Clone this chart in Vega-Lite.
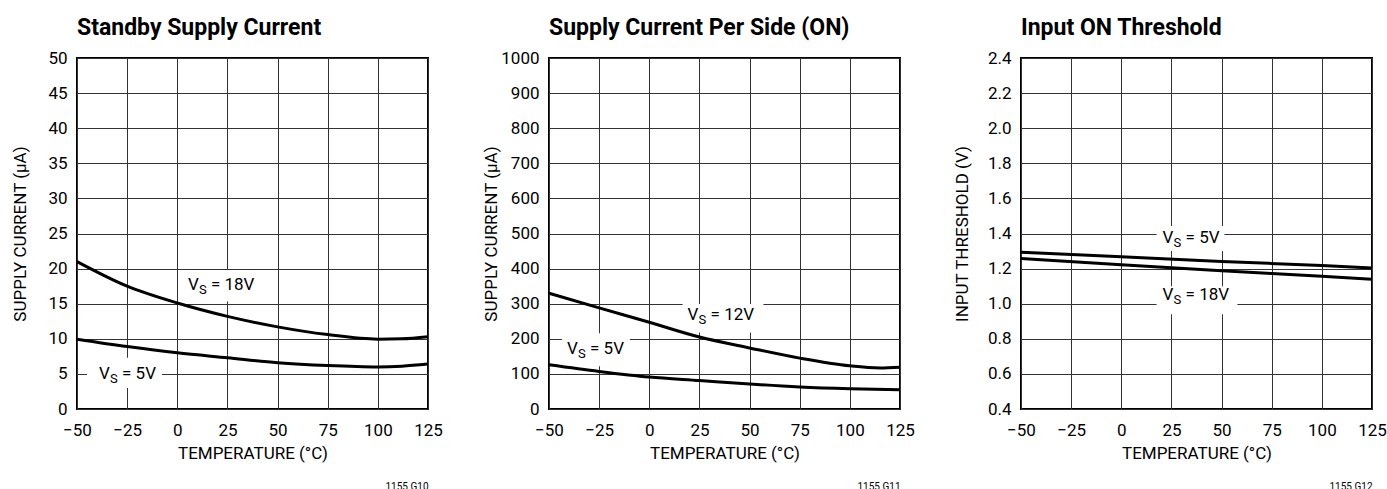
{
  "$schema": "https://vega.github.io/schema/vega-lite/v6.json",
  "autosize": {"type": "pad"},
  "padding": {"left": 10, "top": 16, "right": 5, "bottom": 0},
  "spacing": 121,
  "bounds": "flush",
  "config": {
    "font": "Roboto, Liberation Sans, sans-serif",
    "view": {"stroke": "black", "strokeWidth": 2},
    "axis": {
      "grid": true, "gridColor": "#333333", "gridWidth": 1, "gridOpacity": 1,
      "domain": false, "ticks": false,
      "labelFontSize": 17, "labelColor": "black", "labelFlush": false, "labelOverlap": false,
      "titleFontSize": 17, "titleFontWeight": "normal", "titleColor": "black"
    },
    "axisX": {"labelPadding": 13, "titlePadding": 7},
    "axisY": {"labelPadding": 10},
    "title": {"fontSize": 23, "fontWeight": "bold", "anchor": "start", "frame": "group", "color": "black", "baseline": "alphabetic", "offset": 9},
    "text": {"color": "black"}
  },
  "hconcat": [
    {
      "width": 351, "height": 351,
      "title": {"text": "Standby Supply Current"},
      "encoding": {
        "y": {"field": "y", "type": "quantitative", "scale": {"domain": [0, 50], "nice": false},
              "axis": {"title": "SUPPLY CURRENT (µA)", "values": [0,5,10,15,20,25,30,35,40,45,50], "titlePadding": 18}}
      },
      "layer": [
        {
          "data": {"values": [
            {"x": 0.5, "x2": 43.5, "y": 15.3, "y2": 19.8},
            {"x": -45, "x2": -7.6, "y": 3.0, "y2": 7.3}
          ]},
          "mark": {"type": "rect", "fill": "white"},
          "encoding": {
            "x": {"field": "x", "type": "quantitative", "scale": {"domain": [-50, 125], "nice": false}, "axis": null},
            "x2": {"field": "x2"}, "y2": {"field": "y2"}
          }
        },
        {
          "data": {"values": [
            {"s": "18V", "x": -50, "y": 21.0}, {"s": "18V", "x": -25, "y": 17.5}, {"s": "18V", "x": 0, "y": 15.1},
            {"s": "18V", "x": 25, "y": 13.2}, {"s": "18V", "x": 50, "y": 11.7}, {"s": "18V", "x": 75, "y": 10.6},
            {"s": "18V", "x": 100, "y": 9.95}, {"s": "18V", "x": 112, "y": 10.0}, {"s": "18V", "x": 125, "y": 10.3},
            {"s": "5V", "x": -50, "y": 9.95}, {"s": "5V", "x": -25, "y": 8.9}, {"s": "5V", "x": 0, "y": 8.0},
            {"s": "5V", "x": 25, "y": 7.3}, {"s": "5V", "x": 50, "y": 6.6}, {"s": "5V", "x": 75, "y": 6.2},
            {"s": "5V", "x": 100, "y": 6.0}, {"s": "5V", "x": 112, "y": 6.1}, {"s": "5V", "x": 125, "y": 6.4}
          ]},
          "mark": {"type": "line", "stroke": "black", "strokeWidth": 3, "interpolate": "monotone"},
          "encoding": {
            "x": {"field": "x", "type": "quantitative", "axis": {"title": "TEMPERATURE (°C)", "orient": "bottom", "grid": true, "values": [-50,-25,0,25,50,75,100,125]}},
            "detail": {"field": "s"}
          }
        },
        {
          "data": {"values": [{"x": 5.3, "y": 17.6, "t": "= 18V"}, {"x": -39, "y": 5.0, "t": "= 5V"}]},
          "mark": {"type": "text", "align": "left", "baseline": "middle", "fontSize": 17},
          "encoding": {"x": {"field": "x", "type": "quantitative", "axis": null}, "text": {"value": "V"}}
        },
        {
          "data": {"values": [{"x": 5.3, "y": 17.6, "t": "= 18V"}, {"x": -39, "y": 5.0, "t": "= 5V"}]},
          "mark": {"type": "text", "align": "left", "baseline": "middle", "fontSize": 13, "dx": 11, "dy": 5},
          "encoding": {"x": {"field": "x", "type": "quantitative", "axis": null}, "text": {"value": "S"}}
        },
        {
          "data": {"values": [{"x": 5.3, "y": 17.6, "t": "= 18V"}, {"x": -39, "y": 5.0, "t": "= 5V"}]},
          "mark": {"type": "text", "align": "left", "baseline": "middle", "fontSize": 17, "dx": 23},
          "encoding": {
            "x": {"field": "x", "type": "quantitative",
                  "axis": {"title": "1155 G10", "orient": "bottom", "labels": false, "grid": false, "titleAnchor": "end", "titleFontSize": 10, "offset": 62, "titlePadding": 10}},
            "text": {"field": "t"}
          }
        }
      ],
      "resolve": {"axis": {"x": "independent"}}
    },
    {
      "width": 351, "height": 351,
      "title": {"text": "Supply Current Per Side (ON)"},
      "encoding": {
        "y": {"field": "y", "type": "quantitative", "scale": {"domain": [0, 1000], "nice": false},
              "axis": {"title": "SUPPLY CURRENT (µA)", "values": [0,100,200,300,400,500,600,700,800,900,1000], "format": "d", "titlePadding": 0}}
      },
      "layer": [
        {
          "data": {"values": [
            {"x": 16.6, "x2": 56.9, "y": 218, "y2": 299},
            {"x": -43.5, "x2": -9.7, "y": 122, "y2": 216}
          ]},
          "mark": {"type": "rect", "fill": "white"},
          "encoding": {
            "x": {"field": "x", "type": "quantitative", "scale": {"domain": [-50, 125], "nice": false}, "axis": null},
            "x2": {"field": "x2"}, "y2": {"field": "y2"}
          }
        },
        {
          "data": {"values": [
            {"s": "12V", "x": -50, "y": 330}, {"s": "12V", "x": -25, "y": 288}, {"s": "12V", "x": 0, "y": 247},
            {"s": "12V", "x": 25, "y": 205}, {"s": "12V", "x": 50, "y": 174}, {"s": "12V", "x": 75, "y": 145},
            {"s": "12V", "x": 100, "y": 123}, {"s": "12V", "x": 115, "y": 117}, {"s": "12V", "x": 125, "y": 119},
            {"s": "5V", "x": -50, "y": 126}, {"s": "5V", "x": -25, "y": 107}, {"s": "5V", "x": 0, "y": 91},
            {"s": "5V", "x": 25, "y": 81}, {"s": "5V", "x": 50, "y": 71}, {"s": "5V", "x": 75, "y": 63},
            {"s": "5V", "x": 100, "y": 58}, {"s": "5V", "x": 125, "y": 55}
          ]},
          "mark": {"type": "line", "stroke": "black", "strokeWidth": 3, "interpolate": "monotone"},
          "encoding": {
            "x": {"field": "x", "type": "quantitative", "axis": {"title": "TEMPERATURE (°C)", "orient": "bottom", "grid": true, "values": [-50,-25,0,25,50,75,100,125]}},
            "detail": {"field": "s"}
          }
        },
        {
          "data": {"values": [{"x": 19.1, "y": 268, "t": "= 12V"}, {"x": -41, "y": 171, "t": "= 5V"}]},
          "mark": {"type": "text", "align": "left", "baseline": "middle", "fontSize": 17},
          "encoding": {"x": {"field": "x", "type": "quantitative", "axis": null}, "text": {"value": "V"}}
        },
        {
          "data": {"values": [{"x": 19.1, "y": 268, "t": "= 12V"}, {"x": -41, "y": 171, "t": "= 5V"}]},
          "mark": {"type": "text", "align": "left", "baseline": "middle", "fontSize": 13, "dx": 11, "dy": 5},
          "encoding": {"x": {"field": "x", "type": "quantitative", "axis": null}, "text": {"value": "S"}}
        },
        {
          "data": {"values": [{"x": 19.1, "y": 268, "t": "= 12V"}, {"x": -41, "y": 171, "t": "= 5V"}]},
          "mark": {"type": "text", "align": "left", "baseline": "middle", "fontSize": 17, "dx": 23},
          "encoding": {
            "x": {"field": "x", "type": "quantitative",
                  "axis": {"title": "1155 G11", "orient": "bottom", "labels": false, "grid": false, "titleAnchor": "end", "titleFontSize": 10, "offset": 62, "titlePadding": 10}},
            "text": {"field": "t"}
          }
        }
      ],
      "resolve": {"axis": {"x": "independent"}}
    },
    {
      "width": 351, "height": 351,
      "title": {"text": "Input ON Threshold"},
      "encoding": {
        "y": {"field": "y", "type": "quantitative", "scale": {"domain": [0.4, 2.4], "nice": false},
              "axis": {"title": "INPUT THRESHOLD (V)", "values": [0.4,0.6,0.8,1.0,1.2,1.4,1.6,1.8,2.0,2.2,2.4], "format": ".1f", "titlePadding": 16}}
      },
      "layer": [
        {
          "data": {"values": [
            {"x": 17.6, "x2": 51.4, "y": 1.30, "y2": 1.443},
            {"x": 17.6, "x2": 57.9, "y": 0.94, "y2": 1.10}
          ]},
          "mark": {"type": "rect", "fill": "white"},
          "encoding": {
            "x": {"field": "x", "type": "quantitative", "scale": {"domain": [-50, 125], "nice": false}, "axis": null},
            "x2": {"field": "x2"}, "y2": {"field": "y2"}
          }
        },
        {
          "data": {"values": [
            {"s": "5V", "x": -50, "y": 1.293}, {"s": "5V", "x": 0, "y": 1.268}, {"s": "5V", "x": 50, "y": 1.241},
            {"s": "5V", "x": 100, "y": 1.217}, {"s": "5V", "x": 125, "y": 1.203},
            {"s": "18V", "x": -50, "y": 1.258}, {"s": "18V", "x": 0, "y": 1.222}, {"s": "18V", "x": 50, "y": 1.188},
            {"s": "18V", "x": 100, "y": 1.156}, {"s": "18V", "x": 125, "y": 1.139}
          ]},
          "mark": {"type": "line", "stroke": "black", "strokeWidth": 3, "interpolate": "monotone"},
          "encoding": {
            "x": {"field": "x", "type": "quantitative", "axis": {"title": "TEMPERATURE (°C)", "orient": "bottom", "grid": true, "values": [-50,-25,0,25,50,75,100,125]}},
            "detail": {"field": "s"}
          }
        },
        {
          "data": {"values": [{"x": 20.6, "y": 1.373, "t": "= 5V"}, {"x": 20.6, "y": 1.05, "t": "= 18V"}]},
          "mark": {"type": "text", "align": "left", "baseline": "middle", "fontSize": 17},
          "encoding": {"x": {"field": "x", "type": "quantitative", "axis": null}, "text": {"value": "V"}}
        },
        {
          "data": {"values": [{"x": 20.6, "y": 1.373, "t": "= 5V"}, {"x": 20.6, "y": 1.05, "t": "= 18V"}]},
          "mark": {"type": "text", "align": "left", "baseline": "middle", "fontSize": 13, "dx": 11, "dy": 5},
          "encoding": {"x": {"field": "x", "type": "quantitative", "axis": null}, "text": {"value": "S"}}
        },
        {
          "data": {"values": [{"x": 20.6, "y": 1.373, "t": "= 5V"}, {"x": 20.6, "y": 1.05, "t": "= 18V"}]},
          "mark": {"type": "text", "align": "left", "baseline": "middle", "fontSize": 17, "dx": 23},
          "encoding": {
            "x": {"field": "x", "type": "quantitative",
                  "axis": {"title": "1155 G12", "orient": "bottom", "labels": false, "grid": false, "titleAnchor": "end", "titleFontSize": 10, "offset": 62, "titlePadding": 10}},
            "text": {"field": "t"}
          }
        }
      ],
      "resolve": {"axis": {"x": "independent"}}
    }
  ]
}
